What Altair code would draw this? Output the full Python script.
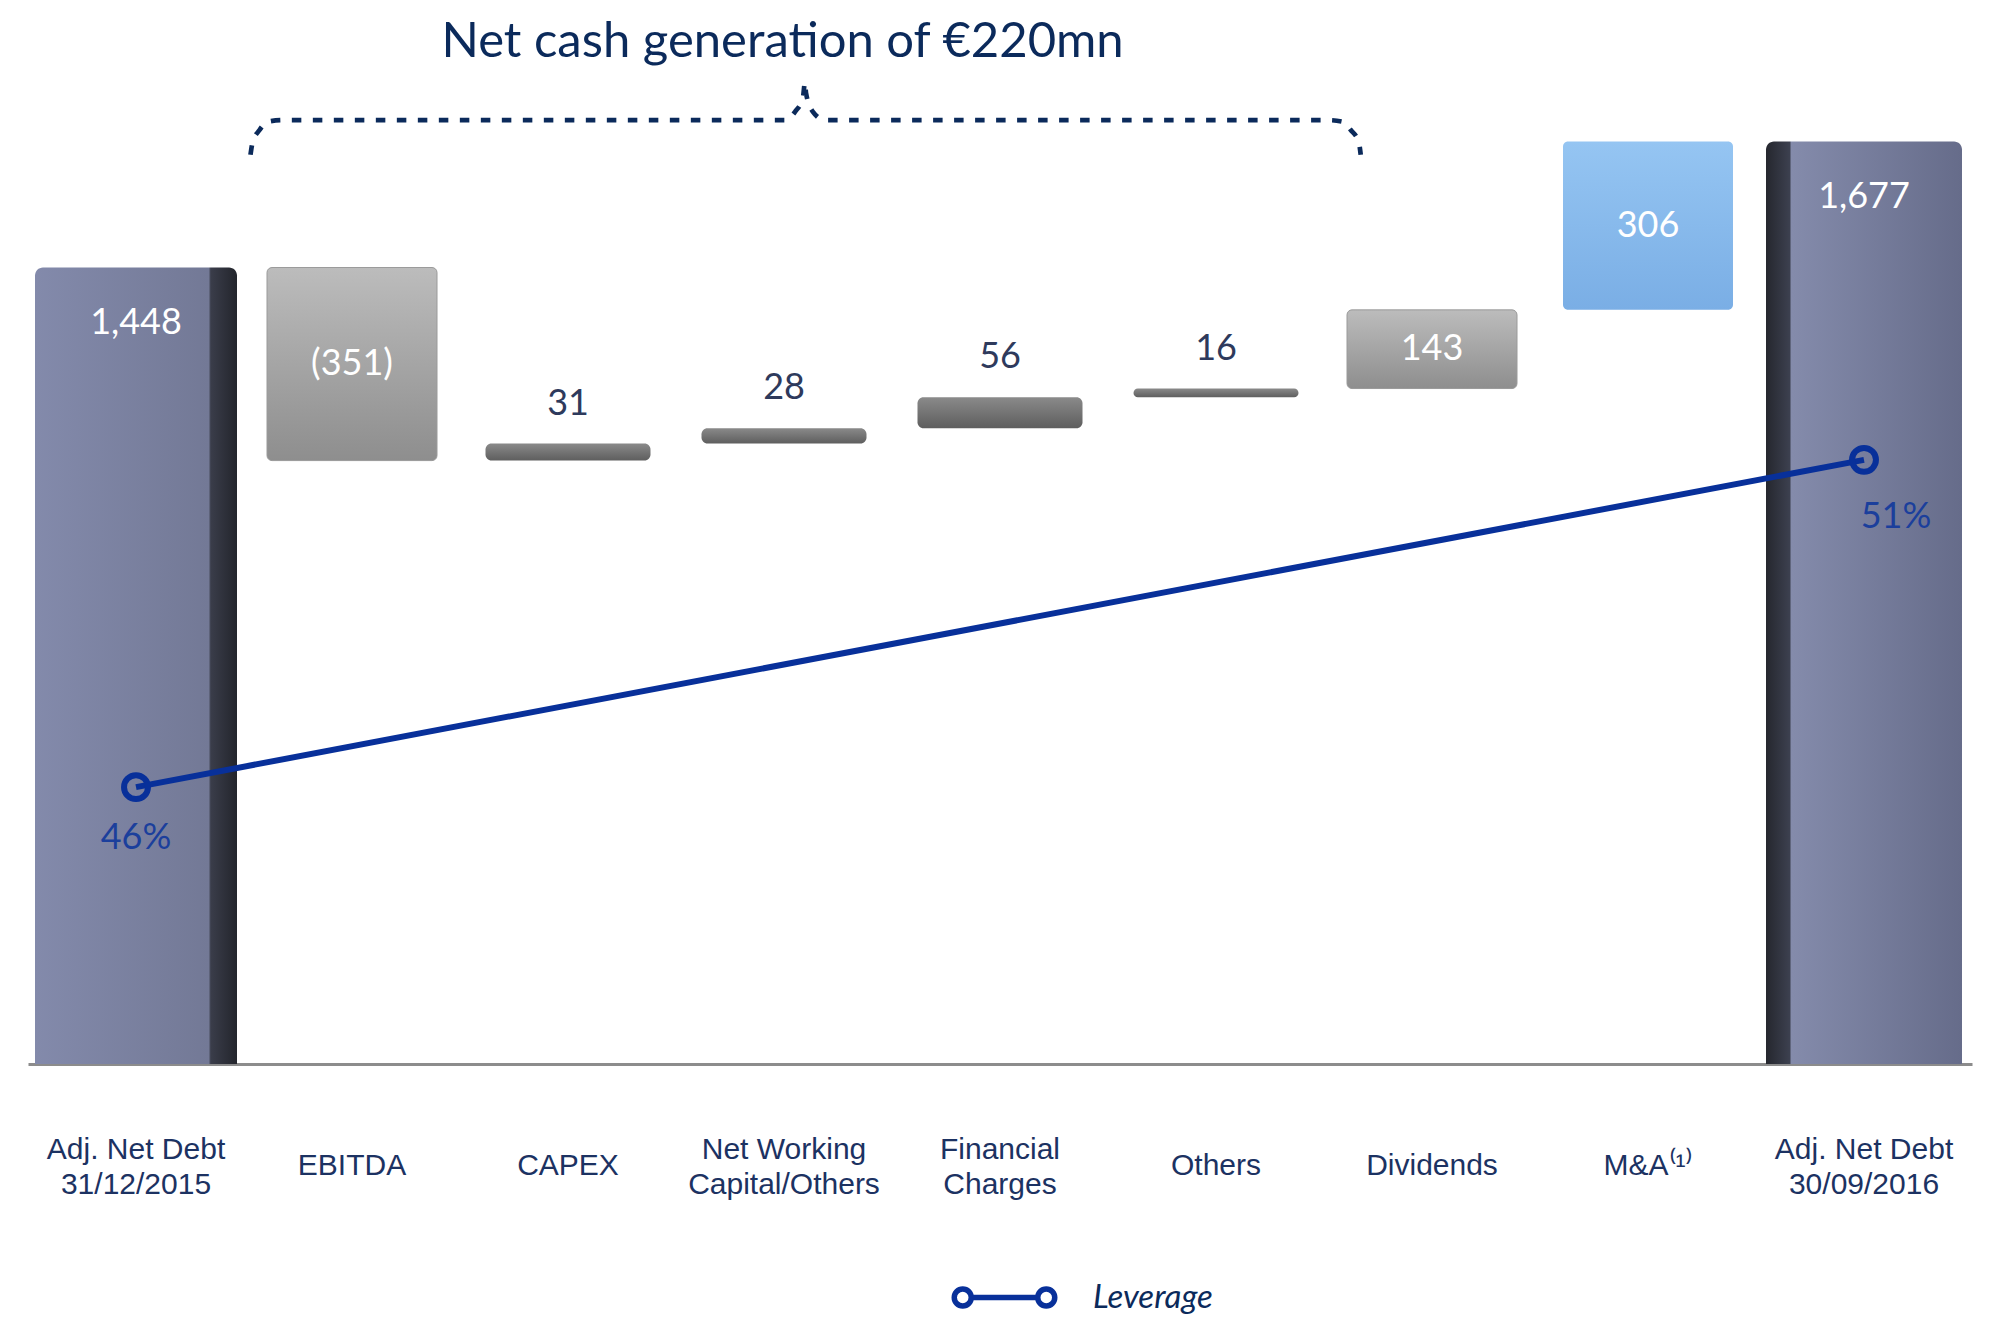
import altair as alt
import pandas as pd

# ---------------- data ----------------
categories = ["Adj. Net Debt|31/12/2015", "EBITDA", "CAPEX", "Net Working|Capital/Others",
              "Financial|Charges", "Others", "Dividends", "M&A⁽¹⁾", "Adj. Net Debt|30/09/2016"]
changes = [1448, -351, 31, 28, 56, 16, 143, 306, 1677]
value_labels = ["1,448", "(351)", "31", "28", "56", "16", "143", "306", "1,677"]
leverage_pct = [46, 51]
leverage_labels = ["46%", "51%"]
title_text = "Net cash generation of €220mn"
bracket_span = ["EBITDA", "Others"]   # items making up the net cash generation
bracket_level = 1716                  # €mn level of the brace line

# ---------------- derived table ----------------
rows = []
running = 0
last = len(categories) - 1
for i, (c, v, lab) in enumerate(zip(categories, changes, value_labels)):
    if i in (0, last):
        lo, hi = 0, v
        running = v
        kind = "first" if i == 0 else "last"
    else:
        lo = running
        running += v
        hi = running
        if c.startswith("M&A"):
            kind = "blue"
        elif abs(v) >= 100:
            kind = "gray"
        else:
            kind = "thin"
    rows.append(dict(cat=c, lo=min(lo, hi), hi=max(lo, hi), mid=(lo + hi) / 2,
                     label=lab, kind=kind))
df = pd.DataFrame(rows)

lev = pd.DataFrame(dict(cat=[categories[0], categories[-1]], lev=leverage_pct,
                        label=leverage_labels, series=["Leverage", "Leverage"]))

# brace shape built from the span of categories (band index units)
s = categories.index(bracket_span[0]) + 0.03
e = categories.index(bracket_span[1]) + 1.17
m = s + (e - s) * 0.5
L = bracket_level
bx = [s, s + 0.01, s + 0.042, s + 0.079, s + 0.149,
      m - 0.095, m - 0.049, m - 0.012, m - 0.003, m + 0.002, m + 0.034, m + 0.09,
      e - 0.152, e - 0.083, e - 0.046, e - 0.009, e]
by = [L - 63, L - 40, L - 18, L - 3, L,
      L, L + 15, L + 42, L + 69, L + 49, L + 15, L,
      L, L - 3, L - 18, L - 40, L - 63]
brace = pd.DataFrame(dict(x=bx, y=by, o=list(range(len(bx)))))
title_df = pd.DataFrame(dict(x=[m], y=[L + 115], text=[title_text]))

# ---------------- scales ----------------
W, H = 1944, 989
ydom = [0, 1798]
xs = alt.Scale(domain=categories, paddingInner=0, paddingOuter=0)
ys = alt.Scale(domain=ydom, nice=False, zero=False)
xq = alt.Scale(domain=[0, len(categories)], nice=False, zero=False)

navy = "#0b2a5b"
lab_navy = "#1c3262"
lev_blue = "#08309a"

two_line = "indexof(datum.value, '|') >= 0"
xaxis = alt.Axis(title=None, orient="bottom", labelExpr="split(datum.label, '|')",
                 labelFont="Liberation Sans", labelFontSize=30,
                 labelColor=lab_navy, labelLineHeight=35,
                 labelPadding=alt.condition(two_line, alt.value(85), alt.value(101)),
                 labelBaseline="middle", labelAngle=0, labelLimit=400,
                 ticks=False, domainColor="#8c8c8c", domainWidth=3,
                 grid=False, labelOverlap=False)
xenc = alt.X("cat:N", scale=xs, sort=categories, axis=xaxis)
xenc_noaxis = alt.X("cat:N", scale=xs, sort=categories, axis=None)

base = alt.Chart(df)


def grad_h(stops):
    return alt.LinearGradient(gradient="linear", x1=0, x2=1, y1=0, y2=0,
                              stops=[alt.GradientStop(offset=o, color=c) for o, c in stops])


def grad_v(stops):
    return alt.LinearGradient(gradient="linear", x1=0, x2=0, y1=0, y2=1,
                              stops=[alt.GradientStop(offset=o, color=c) for o, c in stops])


def bars(kind, size, fill, **kw):
    return base.transform_filter(alt.datum.kind == kind).mark_bar(
        size=size, color=fill, **kw).encode(
        x=xenc, y=alt.Y("lo:Q", scale=ys, axis=None), y2="hi:Q")


first_bar = bars("first", 202, grad_h([(0, "#838aab"), (0.86, "#737996"),
                                        (0.87, "#3a3d4a"), (1, "#23252c")]),
                 cornerRadiusTopLeft=8, cornerRadiusTopRight=8)
last_bar = bars("last", 196, grad_h([(0, "#25272e"), (0.12, "#3c404f"),
                                      (0.13, "#848bab"), (1, "#666c8a")]),
                cornerRadiusTopLeft=8, cornerRadiusTopRight=8)
gray_bars = bars("gray", 170, grad_v([(0, "#bcbcbc"), (1, "#8e8e8e")]),
                 cornerRadius=5, stroke="#9a9a9a", strokeWidth=1)
thin_bars = bars("thin", 165, grad_v([(0, "#8a8a8a"), (1, "#5e5e5e")]),
                 cornerRadius=6)
blue_bars = bars("blue", 170, grad_v([(0, "#95c5f2"), (1, "#7aaee5")]),
                 cornerRadius=5)

tfont = dict(font="Lato", fontSize=36)
lab_total = base.transform_filter(
    (alt.datum.kind == "first") | (alt.datum.kind == "last")).mark_text(
    color="white", dy=55, baseline="middle", **tfont).encode(
    x=xenc, y=alt.Y("hi:Q", scale=ys, axis=None), text="label:N")
lab_inside = base.transform_filter(
    (alt.datum.kind == "gray") | (alt.datum.kind == "blue")).mark_text(
    color="white", baseline="middle", **tfont).encode(
    x=xenc, y=alt.Y("mid:Q", scale=ys, axis=None), text="label:N")
lab_above = base.transform_filter(alt.datum.kind == "thin").mark_text(
    color="#2e3a5c", dy=-40, baseline="middle", **tfont).encode(
    x=xenc, y=alt.Y("hi:Q", scale=ys, axis=None), text="label:N")

main = alt.layer(first_bar, last_bar, gray_bars, thin_bars, blue_bars,
                 lab_total, lab_inside, lab_above)

# leverage line
levs = alt.Scale(domain=[41.77, 56.88], nice=False, zero=False)
lbase = alt.Chart(lev)
sym = ("M-3.325,0L3.325,0"
       "M-3.325,0A0.85,0.85,0,1,1,-5.025,0A0.85,0.85,0,1,1,-3.325,0Z"
       "M5.025,0A0.85,0.85,0,1,1,3.325,0A0.85,0.85,0,1,1,5.025,0Z")
lev_line = lbase.mark_line(strokeWidth=6).encode(
    x=xenc_noaxis, y=alt.Y("lev:Q", scale=levs, axis=None),
    stroke=alt.Stroke("series:N", scale=alt.Scale(range=[lev_blue]),
                      legend=alt.Legend(title=None, orient="none", legendX=960, legendY=1206,
                                        symbolType=sym, symbolSize=400, symbolStrokeWidth=5.5,
                                        symbolStrokeColor=lev_blue, padding=0,
                                        labelFont="Lato", labelFontStyle="italic",
                                        labelFontSize=33, labelColor=navy, labelOffset=72)))
lev_pts = lbase.mark_point(shape="circle", filled=False, size=573, strokeWidth=6,
                           color=lev_blue, opacity=1).encode(
    x=xenc_noaxis, y=alt.Y("lev:Q", scale=levs, axis=None))
lev_lab1 = lbase.transform_filter(alt.datum.label == leverage_labels[0]).mark_text(
    dy=51, color="#1b3f9c", baseline="middle", **tfont).encode(
    x=xenc_noaxis, y=alt.Y("lev:Q", scale=levs, axis=None), text="label:N")
lev_lab2 = lbase.transform_filter(alt.datum.label == leverage_labels[1]).mark_text(
    dy=57, dx=32, color="#1b3f9c", baseline="middle", **tfont).encode(
    x=xenc_noaxis, y=alt.Y("lev:Q", scale=levs, axis=None), text="label:N")
leverage = alt.layer(lev_line, lev_pts, lev_lab1, lev_lab2)

# brace and its heading
brace_line = alt.Chart(brace).mark_line(
    color=navy, strokeWidth=4.7, strokeDash=[9.5, 11.5], interpolate="monotone").encode(
    x=alt.X("x:Q", scale=xq, axis=None),
    y=alt.Y("y:Q", scale=ys, axis=None), order="o:Q")
brace_title = alt.Chart(title_df).mark_text(
    font="Lato", fontSize=49, color=navy, baseline="alphabetic", align="center", dx=-23).encode(
    x=alt.X("x:Q", scale=xq, axis=None),
    y=alt.Y("y:Q", scale=ys, axis=None), text="text:N")
brace_layer = alt.layer(brace_line, brace_title)

chart = alt.layer(main, leverage, brace_layer).resolve_scale(
    x="independent", y="independent").properties(
    width=W, height=H,
    autosize=alt.AutoSizeParams(type="none"),
    padding={"left": 20, "top": 67, "right": 8, "bottom": 251},
).configure_view(stroke=None)

chart.save("out.html", embed_options={"renderer": "svg", "actions": False})
